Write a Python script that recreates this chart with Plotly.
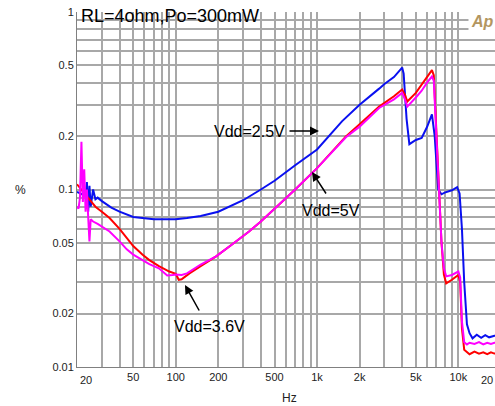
import plotly.graph_objects as go

# ---------------- data ----------------
freq_25 = [20, 21, 22, 23, 23.5, 24, 24.5, 25, 26, 27, 28, 30, 35, 40, 50, 60, 70, 80, 100,
           120, 150, 200, 250, 300, 400, 500, 700, 1000, 1500, 2000, 2750, 3000, 3500, 4000,
           4100, 4300, 4500, 5000, 5500, 6000, 6500, 6800, 7200, 7600, 8000, 9000, 9800,
           10200, 10600, 11000, 11500, 12000, 12600, 13500, 14500, 15500, 16500, 18000, 20000]
thd_25 = [0.097, 0.095, 0.094, 0.092, 0.11, 0.075, 0.105, 0.08, 0.1, 0.088, 0.09, 0.086, 0.079,
          0.075, 0.070, 0.069, 0.068, 0.068, 0.068, 0.069, 0.071, 0.075, 0.081, 0.087, 0.100,
          0.112, 0.137, 0.168, 0.242, 0.30, 0.37, 0.393, 0.43, 0.486, 0.45, 0.25, 0.18, 0.19,
          0.195, 0.225, 0.265, 0.2, 0.1, 0.094, 0.096, 0.099, 0.103, 0.095, 0.06, 0.03, 0.0174,
          0.0155, 0.0145, 0.0152, 0.0146, 0.0151, 0.0147, 0.015, 0.0149]

freq_36 = [20, 21, 22, 23, 24, 25, 27, 30, 34, 40, 45, 50, 58, 65, 76, 90, 100, 105, 110, 118,
           125, 150, 193, 250, 330, 400, 570, 700, 1000, 1600, 2000, 2750, 3500, 4000, 4200,
           4350, 5000, 5500, 6000, 6500, 6700, 7000, 7300, 7600, 7900, 8200, 9000, 10000,
           10300, 10600, 11000, 11400, 12000, 13000, 14000, 15000, 16000, 17000, 18000, 20000]
thd_36 = [0.107, 0.102, 0.097, 0.094, 0.09, 0.086, 0.08, 0.075, 0.069, 0.06, 0.053, 0.048,
          0.043, 0.04, 0.037, 0.0345, 0.0335, 0.031, 0.0312, 0.0325, 0.0337, 0.037, 0.042,
          0.049, 0.058, 0.066, 0.0856, 0.10, 0.132, 0.199, 0.233, 0.293, 0.335, 0.366, 0.34,
          0.313, 0.35, 0.39, 0.43, 0.47, 0.44, 0.2, 0.094, 0.05, 0.0332, 0.0296, 0.031, 0.033,
          0.03, 0.0165, 0.0125, 0.0122, 0.0118, 0.0122, 0.0119, 0.0121, 0.0118, 0.0121,
          0.0119, 0.012]

freq_50 = [20, 20.5, 21, 21.5, 22, 22.5, 23, 23.5, 24, 24.5, 25, 26, 28, 30, 34, 40, 45, 50,
           58, 65, 76, 87, 95, 100, 110, 120, 150, 193, 250, 330, 400, 570, 700, 1000, 1600,
           2000, 2750, 3500, 4000, 4200, 4350, 5000, 5500, 6000, 6500, 6700, 7000, 7300, 7600,
           7900, 8200, 9000, 10000, 10300, 10600, 11000, 11500, 12000, 13000, 14000, 15000,
           16000, 17000, 18000, 20000]
thd_50 = [0.080, 0.078, 0.09, 0.186, 0.085, 0.13, 0.075, 0.1, 0.07, 0.051, 0.068, 0.066, 0.064,
          0.062, 0.058, 0.051, 0.046, 0.043, 0.040, 0.038, 0.036, 0.0328, 0.033, 0.0332, 0.033,
          0.0337, 0.0378, 0.042, 0.049, 0.058, 0.066, 0.0856, 0.10, 0.132, 0.197, 0.226, 0.288,
          0.322, 0.35, 0.32, 0.293, 0.33, 0.36, 0.40, 0.433, 0.41, 0.2, 0.1, 0.05, 0.036,
          0.0324, 0.033, 0.0345, 0.032, 0.018, 0.0138, 0.0134, 0.0137, 0.0135, 0.0138, 0.0134,
          0.0137, 0.0135, 0.0137, 0.0136]

x_grid = [20, 30, 40, 50, 60, 70, 80, 90, 100, 200, 300, 400, 500, 600, 700, 800, 900,
          1000, 2000, 3000, 4000, 5000, 6000, 7000, 8000, 9000, 10000, 20000]
x_labels = {50: "50", 100: "100", 200: "200", 500: "500", 1000: "1k", 2000: "2k",
            5000: "5k", 10000: "10k"}
y_grid = [0.01, 0.02, 0.03, 0.04, 0.05, 0.06, 0.07, 0.08, 0.09, 0.1, 0.2, 0.3, 0.4, 0.5,
          0.6, 0.7, 0.8, 0.9, 1]
y_labels = {0.01: "0.01", 0.02: "0.02", 0.05: "0.05", 0.1: "0.1", 0.2: "0.2", 0.5: "0.5", 1: "1"}

FONT = "Liberation Sans, Arial, sans-serif"

fig = go.Figure()
fig.add_trace(go.Scatter(x=freq_25, y=thd_25, mode="lines", name="Vdd=2.5V",
                         line=dict(color="#0a10f0", width=2)))
fig.add_trace(go.Scatter(x=freq_36, y=thd_36, mode="lines", name="Vdd=3.6V",
                         line=dict(color="#ff0000", width=2)))
fig.add_trace(go.Scatter(x=freq_50, y=thd_50, mode="lines", name="Vdd=5V",
                         line=dict(color="#ff00ff", width=2)))

L, T, B, W, H = 77, 12, 39, 495, 406
PW, PH = W - L, H - T - B


def px(x):
    return (x - L) / PW


def py(y):
    return (H - B - y) / PH


annotations = [
    dict(text="RL=4ohm,Po=300mW", x=px(79), y=py(4), xanchor="left", yanchor="top",
         font=dict(size=18, color="black")),
    dict(text="<b><i>Ap</i></b>", x=px(482), y=py(22), xanchor="center", yanchor="middle",
         font=dict(size=16, color="#b39660"), bgcolor="white", borderpad=2),
    dict(text="Vdd=2.5V", x=px(249), y=py(131), xanchor="center", yanchor="middle",
         font=dict(size=16, color="black")),
    dict(text="Vdd=5V", x=px(331), y=py(211), xanchor="center", yanchor="middle",
         font=dict(size=16, color="black")),
    dict(text="Vdd=3.6V", x=px(209), y=py(326), xanchor="center", yanchor="middle",
         font=dict(size=16, color="black")),
    dict(text="Hz", x=px(289), y=py(398), xanchor="center", yanchor="middle",
         font=dict(size=12, color="#222")),
    dict(text="%", x=px(20), y=py(190), xanchor="center", yanchor="middle",
         font=dict(size=12, color="#222")),
    dict(text="20", x=px(78), y=py(380), xanchor="left", yanchor="middle",
         font=dict(size=11, color="#222")),
    dict(text="20", x=px(495), y=py(380), xanchor="right", yanchor="middle",
         font=dict(size=11, color="#222")),
    # arrows
    dict(text="", x=px(319), y=py(131), ax=-31, ay=0, showarrow=True, arrowhead=2,
         arrowsize=1.2, arrowwidth=1.5, arrowcolor="black"),
    dict(text="", x=px(312), y=py(172), ax=15, ay=23, showarrow=True, arrowhead=2,
         arrowsize=1.2, arrowwidth=1.5, arrowcolor="black"),
    dict(text="", x=px(185), y=py(285), ax=15, ay=27, showarrow=True, arrowhead=2,
         arrowsize=1.2, arrowwidth=1.5, arrowcolor="black"),
]
for a in annotations:
    a.setdefault("xref", "paper")
    a.setdefault("yref", "paper")
    a.setdefault("showarrow", False)

fig.update_layout(
    width=W, height=H,
    margin=dict(l=L, r=0, t=T, b=B, pad=0),
    paper_bgcolor="white", plot_bgcolor="white",
    showlegend=False,
    font=dict(family=FONT, size=11, color="#222"),
    annotations=annotations,
)
fig.update_xaxes(type="log", range=[1.30103, 1.30103 + PW / 141.3],
                 tickmode="array", tickvals=x_grid,
                 ticktext=[x_labels.get(v, "") for v in x_grid],
                 showgrid=True, gridcolor="#a8a8a8", gridwidth=1.5,
                 showline=True, linecolor="#808080", linewidth=1,
                 ticks="", zeroline=False)
fig.update_yaxes(type="log", range=[-2, 0],
                 tickmode="array", tickvals=y_grid,
                 ticktext=[y_labels.get(v, "") for v in y_grid],
                 showgrid=True, gridcolor="#a8a8a8", gridwidth=1.5,
                 showline=True, linecolor="#808080", linewidth=1,
                 ticks="", zeroline=False)

fig.write_html("out.html", config={"displayModeBar": False},
               post_script="document.body.style.margin='0';document.body.style.overflow='hidden';")
